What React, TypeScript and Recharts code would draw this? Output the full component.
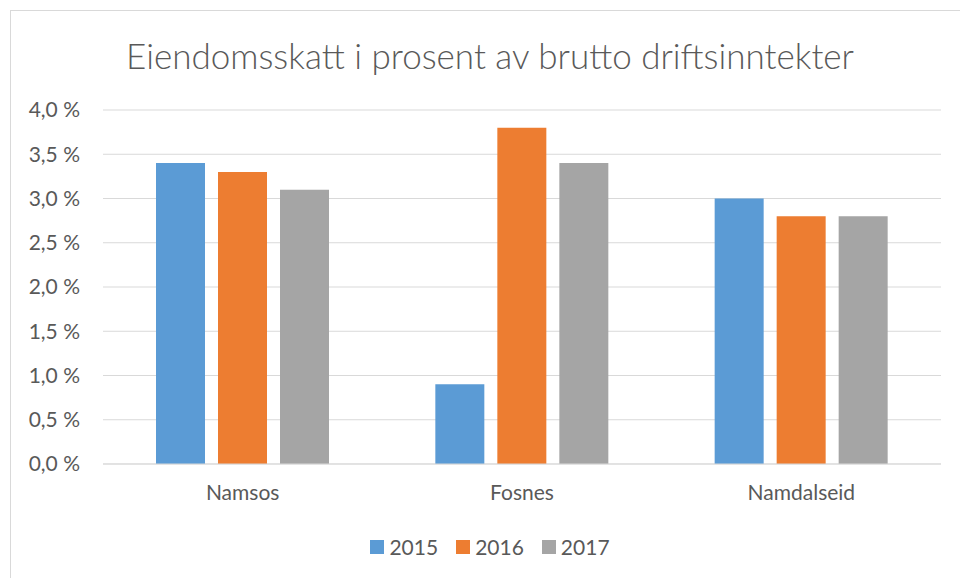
import React from 'react';
import { BarChart, Bar, XAxis, YAxis, CartesianGrid, Legend } from 'recharts';

const kommuner = ['Namsos', 'Fosnes', 'Namdalseid'];
const values2015 = [3.4, 0.9, 3.0];
const values2016 = [3.3, 3.8, 2.8];
const values2017 = [3.1, 3.4, 2.8];
const yTicks = [0, 0.5, 1, 1.5, 2, 2.5, 3, 3.5, 4];

const series = [
  { key: 'y2015', name: '2015', color: '#5B9BD5' },
  { key: 'y2016', name: '2016', color: '#ED7D31' },
  { key: 'y2017', name: '2017', color: '#A5A5A5' },
];

const data = kommuner.map((name, i) => ({
  name,
  y2015: values2015[i],
  y2016: values2016[i],
  y2017: values2017[i],
}));

const FONT = 'Lato, "Open Sans", sans-serif';
const TEXT = '#595959';

const formatPct = (v: number) => `${v.toFixed(1).replace('.', ',')} %`;

const LegendContent = () => (
  <div style={{ display: 'flex', justifyContent: 'center', fontFamily: FONT, fontSize: 21, color: TEXT }}>
    {series.map((s) => (
      <div key={s.key} style={{ display: 'flex', alignItems: 'center', margin: '0 9px' }}>
        <span style={{ display: 'inline-block', width: 14, height: 14, background: s.color, marginRight: 5 }} />
        <span>{s.name}</span>
      </div>
    ))}
  </div>
);

export default function App() {
  return (
    <div style={{ position: 'absolute', left: 0, top: 0, width: 960, height: 578, overflow: 'hidden', background: '#fff' }}>
      {/* chart frame */}
      <div
        style={{
          position: 'absolute',
          left: 10,
          top: 10,
          width: 960,
          height: 600,
          border: '1px solid #d9d9d9',
          boxSizing: 'border-box',
        }}
      />
      <div
        style={{
          position: 'absolute',
          left: 0,
          top: 34,
          width: 980,
          textAlign: 'center',
          fontFamily: FONT,
          fontSize: 35,
          fontWeight: 300,
          color: TEXT,
          lineHeight: '42px',
        }}
      >
        Eiendomsskatt i prosent av brutto driftsinntekter
      </div>
      <BarChart
        width={960}
        height={578}
        data={data}
        margin={{ top: 110, right: 19, bottom: 84, left: 0 }}
        barGap={13}
        barSize={49}
      >
        <CartesianGrid vertical={false} stroke="#d9d9d9" strokeWidth={1} />
        <XAxis
          dataKey="name"
          height={30}
          axisLine={{ stroke: '#d9d9d9' }}
          tickLine={false}
          tickSize={0}
          tickMargin={21}
          tick={{ fill: TEXT, fontSize: 21, fontFamily: FONT }}
        />
        <YAxis
          width={103}
          domain={[0, 4]}
          ticks={yTicks}
          tickFormatter={formatPct}
          axisLine={false}
          tickLine={false}
          tickSize={0}
          tickMargin={23}
          tick={{ fill: TEXT, fontSize: 21, fontFamily: FONT }}
        />
        <Legend
          layout="horizontal"
          verticalAlign="middle"
          align="center"
          wrapperStyle={{ top: 534, left: 0, width: 980 }}
          content={<LegendContent />}
        />
        {series.map((s) => (
          <Bar key={s.key} dataKey={s.key} name={s.name} fill={s.color} isAnimationActive={false} />
        ))}
      </BarChart>
    </div>
  );
}
